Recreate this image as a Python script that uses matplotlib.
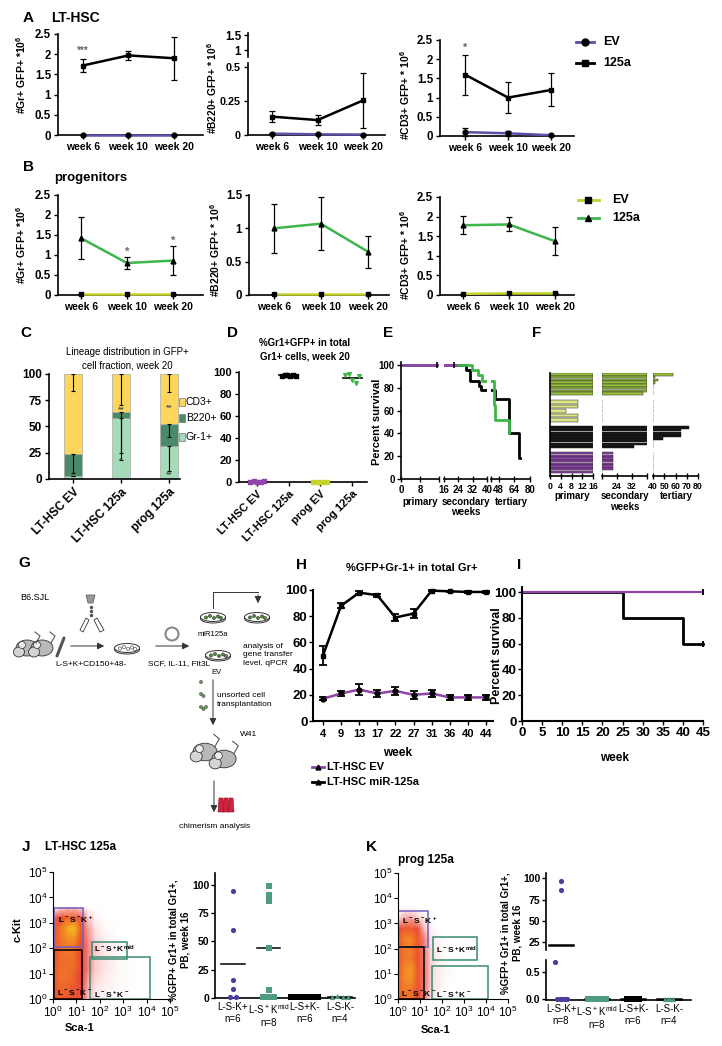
import numpy as np
import matplotlib
matplotlib.use('Agg')
import matplotlib.pyplot as plt
from matplotlib.colors import LinearSegmentedColormap
from matplotlib.patches import Rectangle, Ellipse, Circle, Polygon
from matplotlib.lines import Line2D

plt.rcParams['font.family'] = ['Liberation Sans', 'DejaVu Sans']
plt.rcParams['font.weight'] = 'bold'
plt.rcParams['axes.linewidth'] = 1.2
plt.rcParams['xtick.major.width'] = 1.0
plt.rcParams['ytick.major.width'] = 1.0
plt.rcParams['mathtext.default'] = 'regular'

W, H = 722, 1046

# ---------------- data ----------------
weeks_ab = ['week 6', 'week 10', 'week 20']

a_gr_ev, a_gr_ev_err = [0, 0, 0], [0, 0, 0]
a_gr_125a, a_gr_125a_err = [1.72, 1.97, 1.90], [0.17, 0.12, 0.53]
a_b220_ev, a_b220_ev_err = [0.01, 0.005, 0.003], [0.004, 0.002, 0.001]
a_b220_125a, a_b220_125a_err = [0.135, 0.11, 0.255], [0.04, 0.035, 0.2]
a_cd3_ev, a_cd3_ev_err = [0.1, 0.07, 0.02], [0.1, 0.06, 0.01]
a_cd3_125a, a_cd3_125a_err = [1.6, 1.0, 1.2], [0.52, 0.4, 0.43]

b_gr_ev, b_gr_ev_err = [0.03, 0.03, 0.03], [0, 0, 0]
b_gr_125a, b_gr_125a_err = [1.42, 0.80, 0.86], [0.52, 0.15, 0.36]
b_b220_ev, b_b220_ev_err = [0.01, 0.01, 0.01], [0, 0, 0]
b_b220_125a, b_b220_125a_err = [1.0, 1.07, 0.65], [0.37, 0.4, 0.24]
b_cd3_ev, b_cd3_ev_err = [0.03, 0.04, 0.04], [0, 0, 0]
b_cd3_125a, b_cd3_125a_err = [1.78, 1.80, 1.37], [0.23, 0.18, 0.36]

c_groups = ['LT-HSC EV', 'LT-HSC 125a', 'prog 125a']
c_gr = [3, 58, 31]
c_b220 = [21, 6, 21]
c_cd3 = [76, 36, 48]
c_err_cd3 = [16, 30, 17]
c_err_b220 = [18, 39, 12]
c_err_gr = [0, 40, 23]

d_groups = ['LT-HSC EV', 'LT-HSC 125a', 'prog EV', 'prog 125a']
d_lt_ev = [0.3, 0.5, 0.2, 0.4, 0.6]
d_lt_125a = [96.5, 97.0, 97.5, 96.0, 97.2, 96.8]
d_prog_ev = [0.2, 0.3, 0.1, 0.4]
d_prog_125a = [97, 98, 93, 90, 96]

e_black_t = [0, 28.5, 30.5, 35.5, 36.5, 44.5, 58, 68.5]
e_black_s = [100, 96, 86, 82, 78, 70, 40, 18]
e_black_end = 69.5
e_green_t = [0, 31.5, 35, 37, 43, 44.5, 58]
e_green_s = [100, 96, 91, 86, 65, 52, 40]
e_green_end = 58.5
e_purple_t = [0]
e_purple_s = [100]
e_purple_end = 22
e_censor = [15, 21.5]

# F: bar end points per mouse (primary 0-16, secondary 16-40, tertiary 40-80)
f_green_sec = [40, 40, 40, 40, 40, 40, 40, 38]
f_green_ter = [58, 42, 44, 42, 0, 0, 0, 0]
f_yellow_pri = [10.5, 10.5, 6, 10.5, 10.5]
f_black_sec = [40, 40, 40, 40, 40, 40, 40, 33]
f_black_ter = [72, 65, 65, 65, 49, 0, 0, 0]
f_purple_sec = [22, 22, 22, 22, 22, 22, 22, 0]

h_weeks = [4, 9, 13, 17, 22, 27, 31, 36, 40, 44]
h_125a = [50, 88, 98, 96, 79, 82, 99.5, 99, 98.5, 98.5]
h_125a_err = [7, 2, 1, 1, 2.5, 3.5, 0.5, 0.5, 0.5, 0.5]
h_ev = [17, 21, 24, 21, 23, 20, 21, 18, 18, 18]
h_ev_err = [1, 2, 4, 3, 3, 3, 3, 2, 2, 2]

i_ev_t, i_ev_s = [0], [100]
i_125a_t, i_125a_s = [0, 25, 40], [100, 80, 60]
i_end = 45

flow_log_x = [0, 0.3, 0.6, 0.9, 1.2, 1.5, 1.8, 2.2, 2.8, 3.5]
flow_log_y = [0, 0.4, 0.8, 1.2, 1.6, 2.0, 2.4, 2.8, 3.2, 3.6]
j_density = [
    [0.55, 0.60, 0.60, 0.55, 0.35, 0.10, 0.03, 0.01, 0, 0],
    [0.60, 0.65, 0.65, 0.60, 0.40, 0.12, 0.04, 0.02, 0.01, 0],
    [0.60, 0.70, 0.70, 0.65, 0.45, 0.15, 0.06, 0.03, 0.01, 0],
    [0.60, 0.70, 0.72, 0.68, 0.50, 0.20, 0.08, 0.04, 0.01, 0],
    [0.55, 0.68, 0.72, 0.70, 0.50, 0.20, 0.08, 0.04, 0.01, 0],
    [0.55, 0.70, 0.75, 0.72, 0.50, 0.20, 0.08, 0.03, 0.01, 0],
    [0.55, 0.72, 0.82, 0.85, 0.55, 0.18, 0.06, 0.02, 0, 0],
    [0.50, 0.72, 0.90, 1.00, 0.60, 0.15, 0.04, 0.01, 0, 0],
    [0.30, 0.50, 0.65, 0.60, 0.35, 0.08, 0.02, 0, 0, 0],
    [0, 0.05, 0.10, 0.10, 0.05, 0, 0, 0, 0, 0],
]
k_density = [
    [0.60, 0.70, 0.70, 0.50, 0.20, 0.05, 0.01, 0, 0, 0],
    [0.65, 0.75, 0.75, 0.55, 0.22, 0.06, 0.02, 0, 0, 0],
    [0.65, 0.80, 0.85, 0.60, 0.25, 0.07, 0.03, 0.01, 0, 0],
    [0.60, 0.80, 0.85, 0.60, 0.25, 0.07, 0.03, 0.01, 0, 0],
    [0.60, 0.75, 0.75, 0.55, 0.22, 0.06, 0.02, 0, 0, 0],
    [0.60, 0.75, 0.78, 0.60, 0.22, 0.05, 0.02, 0, 0, 0],
    [0.60, 0.78, 0.80, 0.60, 0.20, 0.04, 0.01, 0, 0, 0],
    [0.40, 0.60, 0.60, 0.40, 0.10, 0.02, 0, 0, 0, 0],
    [0.05, 0.15, 0.15, 0.08, 0.02, 0, 0, 0, 0, 0],
    [0, 0, 0, 0, 0, 0, 0, 0, 0, 0],
]

j_cats = ['L-S-K+\nn=6', 'L-S$^+$K$^{mid}$\nn=8', 'L-S+K-\nn=6', 'L-S-K-\nn=4']
j_vals = [[95, 60, 16, 8, 0.5, 0.5],
          [99, 91, 86, 44, 7, 0.5, 0.5, 0.5],
          [0.5, 0.5, 0.5, 0.5, 0.5, 0.5],
          [1, 2, 1, 0.5]]
j_means = [30, 44, 0.5, 1]
k_cats = ['L-S-K+\nn=8', 'L-S$^+$K$^{mid}$\nn=8', 'L-S+K-\nn=6', 'L-S-K-\nn=4']
k_vals = [[97, 86, 0.68, 0, 0, 0, 0, 0],
          [0, 0, 0, 0, 0, 0, 0, 0],
          [0, 0, 0, 0, 0, 0],
          [0, 0, 0, 0]]
k_means = [22, 0, 0, 0]

# ---------------- colours ----------------
ev_a = '#5a50a8'
prog_ev = '#c3d32c'
prog_tr = '#3db54a'
purple = '#8e44a8'
cd3_col, b220_col, gr_col = '#fcd55c', '#4b8a68', '#a5dbb8'
f_green, f_yellow = '#99c240', '#dce48a'
pt_purple, pt_teal = '#4b3f9c', '#4f9b80'
gate_purple, gate_teal = '#7060c0', '#3b8a72'
flow_cmap = LinearSegmentedColormap.from_list(
    'flow', [(0, 'white'), (0.04, '#fde3e3'), (0.2, '#f28080'), (0.45, '#e83a2e'),
             (0.75, '#f0782a'), (1.0, '#f6c21c')])

fig = plt.figure(figsize=(W / 100, H / 100), dpi=100)


def px_axes(l, t, r, b):
    return fig.add_axes([l / W, 1 - b / H, (r - l) / W, (b - t) / H])


def ftext(x, y, s, **kw):
    kw.setdefault('va', 'center')
    fig.text(x / W, 1 - y / H, s, **kw)


def clean(ax, left=True, bottom=True):
    ax.spines[['top', 'right']].set_visible(False)
    ax.spines['left'].set_visible(left)
    ax.spines['bottom'].set_visible(bottom)
    ax.patch.set_alpha(0)


def letter(x, y, s):
    ftext(x, y, s, fontsize=11, fontweight='bold')


# ---------------- A / B ----------------
def week_panel(box, ylim, yticks, xlim, ev, ev_err, tr, tr_err, ev_col, tr_col, ev_mk, tr_mk):
    ax = px_axes(*box)
    x = np.arange(len(weeks_ab))
    for vals, err, col, mk in ((ev, ev_err, ev_col, ev_mk), (tr, tr_err, tr_col, tr_mk)):
        ax.errorbar(x, vals, yerr=err, color=col, lw=1.8, marker=mk, ms=3.5, mfc='k', mec='k',
                    ecolor='k', elinewidth=0.9, capsize=2.5, capthick=0.9, clip_on=False, zorder=3)
    ax.set_xlim(*xlim)
    ax.set_ylim(*ylim)
    ax.set_xticks(x, weeks_ab)
    ax.set_yticks(yticks, [f'{v:g}' for v in yticks])
    clean(ax)
    ax.tick_params(axis='y', labelsize=8.3, length=3, pad=2)
    ax.tick_params(axis='x', labelsize=7.5, length=3, pad=2)
    return ax


letter(23, 18, 'A')
ftext(51, 18, 'LT-HSC', fontsize=10)
ax = week_panel((58, 34, 203, 135), (0, 2.5), [0, 0.5, 1, 1.5, 2, 2.5], (-0.55, 2.64),
                a_gr_ev, a_gr_ev_err, a_gr_125a, a_gr_125a_err, ev_a, 'k', 'o', 's')
ax.text(0, 2.02, '***', ha='center', fontsize=7, color='#666')
ax = week_panel((248, 63, 385, 135), (0, 0.53), [0, 0.25, 0.5], (-0.53, 2.48),
                a_b220_ev, a_b220_ev_err, a_b220_125a, a_b220_125a_err, ev_a, 'k', 'o', 's')
ax.tick_params(axis='y', labelsize=7.8)
ax_up = px_axes(248, 33, 385, 57)
ax_up.set_ylim(0.767, 1.567)
ax_up.set_yticks([1, 1.5], ['1', '1.5'])
ax_up.set_xticks([])
clean(ax_up, bottom=False)
ax_up.tick_params(labelsize=8.3, length=3, pad=2)
ax = week_panel((440, 40, 574, 136), (0, 2.5), [0, 0.5, 1, 1.5, 2, 2.5], (-0.58, 2.53),
                a_cd3_ev, a_cd3_ev_err, a_cd3_125a, a_cd3_125a_err, ev_a, 'k', 'o', 's')
ax.text(0, 2.22, '*', ha='center', fontsize=8, color='#666')

ftext(21, 75, '#Gr+ GFP+ *10$^6$', rotation=90, ha='center', fontsize=7.5)
ftext(212, 88, '#B220+ GFP+ * 10$^6$', rotation=90, ha='center', fontsize=7.3)
ftext(405, 95, '#CD3+ GFP+ * 10$^6$', rotation=90, ha='center', fontsize=7.5)

for yy, col, mk, lab in ((42, ev_a, 'o', 'EV'), (63, 'k', 's', '125a')):
    fig.add_artist(Line2D([576 / W, 594 / W], [1 - yy / H] * 2, color=col, lw=2))
    fig.add_artist(Line2D([585 / W], [1 - yy / H], marker=mk, color='k', ms=5))
    ftext(603, yy, lab, fontsize=9)

letter(23, 167, 'B')
ftext(54, 178, 'progenitors', fontsize=9.5)
ax = week_panel((58, 195, 203, 295), (0, 2.5), [0, 0.5, 1, 1.5, 2, 2.5], (-0.5, 2.65),
                b_gr_ev, b_gr_ev_err, b_gr_125a, b_gr_125a_err, prog_ev, prog_tr, 's', '^')
ax.text(1, 1.0, '*', ha='center', fontsize=8, color='#666')
ax.text(2, 1.27, '*', ha='center', fontsize=8, color='#666')
week_panel((249, 195, 389, 295), (0, 1.5), [0, 0.5, 1, 1.5], (-0.53, 2.45),
           b_b220_ev, b_b220_ev_err, b_b220_125a, b_b220_125a_err, prog_ev, prog_tr, 's', '^')
week_panel((440, 197, 574, 295), (0, 2.5), [0, 0.5, 1, 1.5, 2, 2.5], (-0.5, 2.41),
           b_cd3_ev, b_cd3_ev_err, b_cd3_125a, b_cd3_125a_err, prog_ev, prog_tr, 's', '^')
ftext(21, 245, '#Gr+ GFP+ *10$^6$', rotation=90, ha='center', fontsize=7.5)
ftext(215, 250, '#B220+ GFP+ * 10$^6$', rotation=90, ha='center', fontsize=7.5)
ftext(405, 255, '#CD3+ GFP+ * 10$^6$', rotation=90, ha='center', fontsize=7.5)
for yy, col, mk, lab in ((200, prog_ev, 's', 'EV'), (218, prog_tr, '^', '125a')):
    fig.add_artist(Line2D([578 / W, 599 / W], [1 - yy / H] * 2, color=col, lw=2))
    fig.add_artist(Line2D([588 / W], [1 - yy / H], marker=mk, color='k', ms=5))
    ftext(612, yy, lab, fontsize=9)

# ---------------- C ----------------
letter(20, 333, 'C')
ftext(127, 359, 'Lineage distribution in GFP+\ncell fraction, week 20', ha='center',
      fontsize=7, fontweight='normal', linespacing=1.4)
ax = px_axes(49, 374, 180, 479)
xc = np.arange(len(c_groups))
bot_b = np.array(c_gr)
bot_c = bot_b + np.array(c_b220)
ax.bar(xc, c_gr, 0.36, color=gr_col, edgecolor='#aaa', lw=0.5)
ax.bar(xc, c_b220, 0.36, bottom=bot_b, color=b220_col, edgecolor='#aaa', lw=0.5)
ax.bar(xc, c_cd3, 0.36, bottom=bot_c, color=cd3_col, edgecolor='#aaa', lw=0.5)
for tops, err in ((bot_c + np.array(c_cd3), c_err_cd3), (bot_c, c_err_b220), (bot_b, c_err_gr)):
    ax.errorbar(xc, tops, yerr=[err, np.zeros(3)], fmt='none', ecolor='k', elinewidth=0.8,
                capsize=1.5, capthick=0.8)
for xi, yi, s in ((1, 65, '**'), (2, 66, '**'), (1, 16, '*'), (2, 3, '**')):
    ax.text(xi, yi, s, ha='center', fontsize=6, color='#555')
ax.set_xlim(-0.5, 2.23)
ax.set_ylim(0, 100)
ax.set_yticks([0, 25, 50, 75, 100])
ax.set_xticks(xc)
ax.set_xticklabels(c_groups, rotation=45, ha='right', rotation_mode='anchor', fontsize=7.5)
clean(ax)
ax.tick_params(labelsize=8.5, length=3, pad=2)
for yy, col, lab in ((402, cd3_col, 'CD3+'), (418, b220_col, 'B220+'), (437, gr_col, 'Gr-1+')):
    fig.add_artist(Rectangle((179 / W, 1 - (yy + 3.5) / H), 6 / W, 7 / H, fc=col, ec='#777', lw=0.5))
    ftext(186, yy, lab, fontsize=7.5, fontweight='normal')

# ---------------- D ----------------
letter(227, 333, 'D')
ftext(305, 350, '%Gr1+GFP+ in total\nGr1+ cells, week 20', ha='center', fontsize=7,
      linespacing=1.4)
ax = px_axes(239, 372, 367, 482)
for i, (vals, col, mk) in enumerate(((d_lt_ev, purple, 's'), (d_lt_125a, 'k', 's'),
                                     (d_prog_ev, prog_ev, 's'), (d_prog_125a, prog_tr, 'v'))):
    offs = np.linspace(-0.22, 0.22, len(vals))
    ax.scatter(i + offs, vals, s=7, marker=mk, color=col, clip_on=False, zorder=3)
    ax.plot([i - 0.3, i + 0.3], [np.mean(vals)] * 2, color='k', lw=1.2, clip_on=False)
ax.set_xlim(-0.57, 3.47)
ax.set_ylim(0, 100)
ax.set_yticks([0, 20, 40, 60, 80, 100])
ax.set_xticks(range(4))
ax.set_xticklabels(d_groups, rotation=45, ha='right', rotation_mode='anchor', fontsize=7.5)
clean(ax)
ax.tick_params(labelsize=8, length=3, pad=2)

# ---------------- E ----------------
letter(383, 333, 'E')
e_boxes = [(401, 361.6, 439, 479), (444, 361.6, 487, 479), (491, 361.6, 530, 479)]
e_lims = [(0, 16), (16, 40), (40, 80)]
e_ticks = [([0, 8, 16], ['0', '8', '']), ([16, 24, 32, 40], ['16', '24', '32', '40']),
           ([40, 48, 64, 80], ['', '48', '64', '80'])]
for k, (bx, lim, (tk, tl)) in enumerate(zip(e_boxes, e_lims, e_ticks)):
    ax = px_axes(*bx)
    for t, s, end, col in ((e_black_t, e_black_s, e_black_end, 'k'),
                           (e_green_t, e_green_s, e_green_end, prog_tr),
                           (e_purple_t, e_purple_s, e_purple_end, purple)):
        ax.step(list(t) + [end], list(s) + [s[-1]], where='post', color=col, lw=2)
    ax.plot(e_censor, [100, 100], ls='none', marker='|', color='k', ms=5, mew=1.2)
    ax.set_xlim(*lim)
    ax.set_ylim(0, 103)
    ax.set_xticks(tk, tl)
    clean(ax, left=(k == 0))
    if k == 0:
        ax.set_yticks([0, 20, 40, 60, 80, 100])
    else:
        ax.set_yticks([])
    ax.tick_params(labelsize=7, length=3, pad=1.5)
    ax.tick_params(axis='x', direction='inout', length=5)
ftext(377, 422, 'Percent survival', rotation=90, ha='center', fontsize=8)
for xx, lab in ((420, 'primary'), (466, 'secondary'), (511, 'tertiary')):
    ftext(xx, 502, lab, ha='center', fontsize=7)
ftext(466, 512, 'weeks', ha='center', fontsize=7)

# ---------------- F ----------------
letter(532, 333, 'F')
f_groups = [(f_green, [16] * len(f_green_sec), f_green_sec, f_green_ter, 0, 22),
            (f_yellow, f_yellow_pri, [0] * len(f_yellow_pri), [0] * len(f_yellow_pri), 27, 22),
            ('#111111', [16] * len(f_black_sec), f_black_sec, f_black_ter, 53, 22),
            (purple, [16] * len(f_purple_sec), f_purple_sec, [0] * len(f_purple_sec), 79, 21)]
f_boxes = [(550, 373, 593, 476), (602, 373, 647, 476), (653, 373, 698, 476)]
f_lims = [(0, 16), (16, 40), (40, 80)]
f_ticks = [([0, 4, 8, 12, 16], ['0', '4', '8', '12', '16']), ([16, 24, 32, 40], ['', '24', '32', '']),
           ([40, 50, 60, 70, 80], ['40', '50', '60', '70', '80'])]
for k, (bx, lim, (tk, tl)) in enumerate(zip(f_boxes, f_lims, f_ticks)):
    ax = px_axes(*bx)
    for col, pri, sec, ter, top, hgt in f_groups:
        n = len(pri)
        yy = top + (np.arange(n) + 0.5) * hgt / n
        ends = (pri, sec, ter)[k]
        start = lim[0]
        widths = np.clip(np.array(ends, float) - start, 0, None)
        ax.barh(yy, widths, height=hgt / n * 0.82, left=start, color=col, edgecolor='#222', lw=0.35)
    ax.set_xlim(*lim)
    ax.set_ylim(103, 0)
    ax.set_xticks(tk, tl)
    ax.set_yticks([])
    clean(ax, left=(k == 0))
    ax.tick_params(labelsize=6.3, length=3, pad=1.5)
    ax.tick_params(axis='x', direction='inout', length=5)
for xx, lab in ((572, 'primary'), (625, 'secondary'), (676, 'tertiary')):
    ftext(xx, 496, lab, ha='center', fontsize=7)
ftext(625, 507, 'weeks', ha='center', fontsize=7)

# ---------------- G (schematic) ----------------
letter(18, 563, 'G')
g = px_axes(0, 545, 300, 840)
g.set_xlim(0, 300)
g.set_ylim(840, 545)
g.axis('off')


def mouse(x, y, s=1.0):
    g.add_patch(Ellipse((x, y), 22 * s, 16 * s, fc='#b8b8b8', ec='#333', lw=0.6))
    g.add_patch(Ellipse((x - 8 * s, y + 4 * s), 11 * s, 10 * s, fc='#d4d4d4', ec='#333', lw=0.6))
    g.add_patch(Circle((x - 5 * s, y - 3 * s), 3.5 * s, fc='#ececec', ec='#333', lw=0.5))
    g.plot([x + 9 * s, x + 13 * s, x + 8 * s], [y - 5 * s, y - 12 * s, y - 16 * s], color='#555', lw=0.8)


def dish(x, y, green=False):
    g.add_patch(Ellipse((x, y + 1.5), 25, 9, fc='white', ec='#333', lw=0.7))
    g.add_patch(Ellipse((x, y), 25, 9, fc='white', ec='#333', lw=0.7))
    for dx, dy in ((-7, 0.5), (-3, -1), (1, 1), (5, -0.5), (8, 1)):
        g.add_patch(Circle((x + dx, y + dy), 1.6, fc='#4f8f3a' if green else 'white', ec='#333', lw=0.4))


g.text(20, 598, 'B6.SJL', fontsize=6.5, fontweight='normal', va='center')
mouse(27, 648)
mouse(42, 648)
g.plot([57, 64], [656, 638], color='#555', lw=2.2, solid_capstyle='round')
g.annotate('', xy=(107, 646), xytext=(68, 646), arrowprops=dict(arrowstyle='-|>', lw=0.7, color='#333'))
g.text(55, 664, 'L-S+K+CD150+48-', fontsize=6, fontweight='normal', va='center')
g.add_patch(Polygon([[86, 595], [95, 595], [93, 603], [88, 603]], fc='#999', ec='#555', lw=0.5))
g.plot([90.5, 90.5, 90.5], [607, 611, 615], ls='none', marker='o', ms=1.5, color='#555')
g.add_patch(Polygon([[80, 630], [86, 618], [89, 620], [83, 632]], fc='white', ec='#333', lw=0.6))
g.add_patch(Polygon([[94, 620], [97, 618], [104, 630], [100, 632]], fc='white', ec='#333', lw=0.6))
dish(127, 648)
g.annotate('', xy=(192, 646), xytext=(153, 646), arrowprops=dict(arrowstyle='-|>', lw=0.7, color='#333'))
g.add_patch(Circle((172, 634), 6.5, fill=False, ec='#888', lw=1.5))
g.text(148, 664, 'SCF, IL-11, Flt3L', fontsize=6, fontweight='normal', va='center')
dish(213, 617, green=True)
g.text(213, 634, 'miR125a', fontsize=5.5, fontweight='normal', ha='center', va='center')
dish(257, 617, green=True)
g.plot([213, 213, 258], [608, 592, 592], color='#333', lw=0.7)
g.annotate('', xy=(258, 606), xytext=(258, 592), arrowprops=dict(arrowstyle='-|>', lw=0.7, color='#333'))
dish(218, 655, green=True)
g.text(217, 672, 'EV', fontsize=5.5, fontweight='normal', ha='center', va='center')
g.text(243, 655, 'analysis of\ngene transfer\nlevel, qPCR', fontsize=6, fontweight='normal',
       va='center', linespacing=1.3)
g.annotate('', xy=(213, 728), xytext=(213, 677), arrowprops=dict(arrowstyle='-|>', lw=0.7, color='#333'))
for cy, n in ((682, 1), (694, 2), (707, 3)):
    for j in range(n):
        g.add_patch(Circle((201 + j * 2.5, cy + (j % 2) * 2), 1.6, fc='#6a9a5a', ec='#333', lw=0.3))
g.text(217, 700, 'unsorted cell\ntransplantation', fontsize=6, fontweight='normal', va='center',
       linespacing=1.3)
mouse(205, 752, 1.1)
mouse(224, 759, 1.1)
g.text(240, 735, 'W41', fontsize=6, fontweight='normal', va='center')
g.annotate('', xy=(214, 815), xytext=(214, 778), arrowprops=dict(arrowstyle='-|>', lw=0.7, color='#333'))
for bx in (221, 226, 231):
    g.add_patch(Polygon([[bx - 3, 812], [bx + 3, 812], [bx + 2, 798], [bx - 2, 798]], fc='#d0213f', ec='#901020', lw=0.4))
g.text(215, 826, 'chimerism analysis', fontsize=6, fontweight='normal', ha='center', va='center')

# ---------------- H ----------------
letter(296, 565, 'H')
ftext(412, 568, '%GFP+Gr-1+ in total Gr+', ha='center', fontsize=8)
ax = px_axes(313, 590, 493, 721)
xh = np.arange(len(h_weeks))
ax.errorbar(xh, h_ev, yerr=h_ev_err, color=purple, lw=1.8, marker='o', ms=3.5, mfc='k', mec='k',
            ecolor='k', elinewidth=1.3, capsize=3, capthick=1.3, clip_on=False, zorder=3)
ax.errorbar(xh, h_125a, yerr=h_125a_err, color='k', lw=1.8, marker='s', ms=3.5, mfc='k', mec='k',
            ecolor='k', elinewidth=1.3, capsize=3, capthick=1.3, clip_on=False, zorder=3)
ax.set_xlim(-0.55, 9.39)
ax.set_ylim(0, 100)
ax.set_yticks([0, 20, 40, 60, 80, 100])
ax.set_xticks(xh, [str(w) for w in h_weeks])
clean(ax)
ax.spines[['left', 'bottom']].set_linewidth(1.5)
ax.tick_params(axis='y', labelsize=9.5, length=3, pad=1)
ax.tick_params(axis='x', labelsize=8, length=3, pad=3)
ftext(398, 753, 'week', ha='center', fontsize=8.5)
for yy, col, lab in ((767, purple, 'LT-HSC EV'), (782, 'k', 'LT-HSC miR-125a')):
    fig.add_artist(Line2D([312 / W, 324 / W], [1 - yy / H] * 2, color=col, lw=2))
    fig.add_artist(Line2D([318 / W], [1 - yy / H], marker='^', color='k', ms=3.5))
    ftext(327, yy, lab, fontsize=8)

# ---------------- I ----------------
letter(517, 565, 'I')
ax = px_axes(522, 587, 703, 721)
ax.step(i_125a_t + [i_end], i_125a_s + [i_125a_s[-1]], where='post', color='k', lw=2, clip_on=False)
ax.step(i_ev_t + [i_end], i_ev_s + [i_ev_s[-1]], where='post', color=purple, lw=1.6, clip_on=False)
ax.plot([i_end, i_end], [i_ev_s[-1], i_125a_s[-1]], ls='none', marker='|', color='k', ms=5, mew=1.5)
ax.set_xlim(0, 45)
ax.set_ylim(0, 104)
ax.set_xticks(range(0, 50, 5))
ax.set_yticks([0, 20, 40, 60, 80, 100])
clean(ax)
ax.spines[['left', 'bottom']].set_linewidth(1.5)
ax.tick_params(labelsize=9.5, length=3, pad=1)
ftext(497, 656, 'Percent survival', rotation=90, ha='center', fontsize=9)
ftext(615, 758, 'week', ha='center', fontsize=8.5)


# ---------------- J / K ----------------
def flow_panel(box, dens, gates, labels):
    ax = px_axes(*box)
    gx, gy = np.meshgrid(flow_log_x, flow_log_y)
    ax.pcolormesh(gx, gy, np.array(dens), cmap=flow_cmap, shading='gouraud', vmin=0, vmax=1)
    for (x0, y0, x1, y1), col in gates:
        ax.add_patch(Rectangle((x0, y0), x1 - x0, y1 - y0, fill=False, ec=col, lw=1.1))
    for x, y, s in labels:
        ax.text(x, y, s, fontsize=6, va='center')
    ax.set_xlim(0, 5)
    ax.set_ylim(0, 5)
    ax.set_xticks(range(6), [f'10$^{n}$' for n in range(6)])
    ax.set_yticks(range(6), [f'10$^{n}$' for n in range(6)])
    clean(ax)
    ax.spines[['left', 'bottom']].set_linewidth(0.8)
    ax.tick_params(labelsize=8.5, length=3, pad=1, width=0.8)
    for t in ax.get_xticklabels() + ax.get_yticklabels():
        t.set_fontweight('normal')
    return ax


gate_labels_j = [(0.2, 3.1, 'L$^-$S$^-$K$^+$'), (1.75, 1.95, 'L$^-$S$^+$K$^{mid}$'),
                 (0.15, 0.18, 'L$^-$S$^-$K$^-$'), (1.75, 0.18, 'L$^-$S$^+$K$^-$')]
letter(22, 847, 'J')
ftext(45, 847, 'LT-HSC 125a', fontsize=8.5)
flow_panel((53, 872, 170, 999), j_density,
           [((0.05, 2.05, 1.28, 3.57), gate_purple), ((0.05, 0.0, 1.25, 1.93), 'k'),
            ((1.65, 1.57, 3.15, 2.23), gate_teal), ((1.6, 0.0, 4.15, 1.65), gate_teal)],
           gate_labels_j)
ftext(18, 930, 'c-Kit', rotation=90, ha='center', fontsize=8)
ftext(80, 1028, 'Sca-1', ha='center', fontsize=8)

letter(366, 847, 'K')
ftext(398, 860, 'prog 125a', fontsize=8.5)
flow_panel((398, 873, 508, 999), k_density,
           [((0.0, 2.05, 1.36, 3.5), gate_purple), ((0.0, 0.0, 1.2, 2.05), 'k'),
            ((1.6, 1.55, 3.6, 2.45), gate_teal), ((1.55, 0.0, 4.1, 1.3), gate_teal)],
           gate_labels_j)
ftext(436, 1030, 'Sca-1', ha='center', fontsize=8)

pt_styles = [(pt_purple, 'o'), (pt_teal, 's'), ('k', 's'), (pt_teal, '^')]


def spread(vals, step):
    offs = np.zeros(len(vals))
    keys = [round(v / 4) for v in vals]
    for key in set(keys):
        idx = [i for i, kk in enumerate(keys) if kk == key]
        offs[idx] = (np.arange(len(idx)) - (len(idx) - 1) / 2) * step
    return offs


ax = px_axes(215, 873, 355, 998)
for i, vals in enumerate(j_vals):
    col, mk = pt_styles[i]
    ax.scatter(i + spread(vals, 0.15), vals, s=14, color=col, marker=mk, clip_on=False, zorder=3, lw=0)
    ax.plot([i - 0.33, i + 0.33], [j_means[i]] * 2, color='k', lw=1.1, clip_on=False)
ax.set_xlim(-0.5, 3.42)
ax.set_ylim(0, 110.6)
ax.set_yticks([0, 25, 50, 75, 100])
ax.set_xticks(range(4), j_cats)
clean(ax)
ax.tick_params(axis='y', labelsize=7.5, length=3, pad=1)
ax.tick_params(axis='x', labelsize=7, length=0, pad=3)
for t in ax.get_xticklabels():
    t.set_fontweight('normal')
ftext(180, 940, '%GFP+ Gr1+ in total Gr1+,\nPB, week 16', rotation=90, ha='center', fontsize=7,
      linespacing=1.25)

k_up = px_axes(546, 873, 691, 950)
k_lo = px_axes(546, 960, 691, 1000)
for i, vals in enumerate(k_vals):
    col, mk = pt_styles[i]
    vals = np.array(vals, float)
    offs = spread(vals, 0.07)
    hi = vals > 10
    k_up.scatter(i + offs[hi], vals[hi], s=14, color=col, marker=mk, clip_on=False, zorder=3, lw=0)
    k_lo.scatter(i + offs[~hi], vals[~hi], s=14, color=col, marker=mk, clip_on=False, zorder=3, lw=0)
    if k_means[i] > 10:
        k_up.plot([i - 0.33, i + 0.33], [k_means[i]] * 2, color='k', lw=1.8)
    else:
        k_lo.plot([i - 0.33, i + 0.33], [k_means[i]] * 2, color='k', lw=1.8, clip_on=False)
for a in (k_up, k_lo):
    a.set_xlim(-0.42, 3.61)
k_up.set_ylim(16, 106)
k_up.set_yticks([25, 50, 75, 100])
k_up.set_xticks([])
clean(k_up, bottom=False)
k_lo.set_ylim(-0.0185, 0.722)
k_lo.set_yticks([0, 0.5], ['0.0', '0.5'])
k_lo.set_xticks(range(4), k_cats)
clean(k_lo)
for a in (k_up, k_lo):
    a.tick_params(axis='y', labelsize=7.5, length=3, pad=1)
k_lo.tick_params(axis='x', labelsize=7, length=0, pad=3)
for t in k_lo.get_xticklabels():
    t.set_fontweight('normal')
ftext(512, 933, '%GFP+ Gr1+ in total Gr1+,\nPB, week 16', rotation=90, ha='center', fontsize=7,
      linespacing=1.25)

fig.savefig('out.png', dpi=100)
